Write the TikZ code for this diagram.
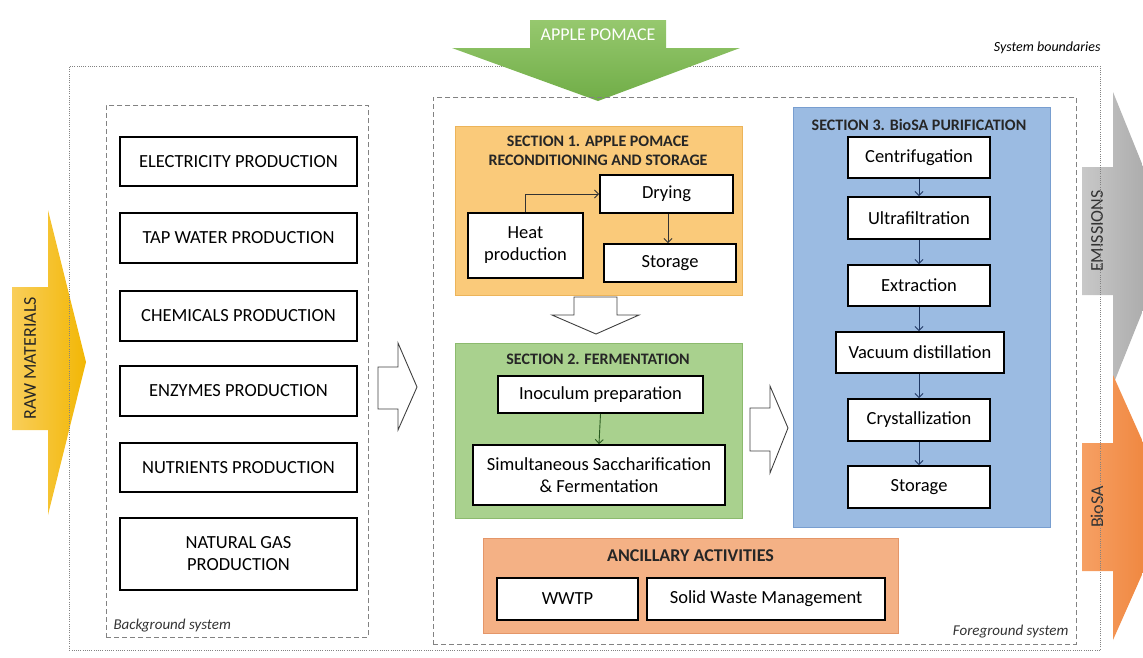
\documentclass[tikz,border=0pt]{standalone}
\usepackage{fontspec}
\setmainfont{Carlito}
\usetikzlibrary{arrows.meta}
\definecolor{secone}{RGB}{250,202,122}
\definecolor{seconeB}{RGB}{236,180,90}
\definecolor{sectwo}{RGB}{169,209,142}
\definecolor{sectwoB}{RGB}{140,186,110}
\definecolor{secthree}{RGB}{155,187,226}
\definecolor{secthreeB}{RGB}{120,158,208}
\definecolor{ancil}{RGB}{244,177,133}
\definecolor{ancilB}{RGB}{228,150,105}
\definecolor{bordgray}{RGB}{130,130,130}
\definecolor{applegreen}{RGB}{112,173,71}
\definecolor{applelight}{RGB}{150,200,110}
\definecolor{rawyellow}{RGB}{242,183,5}
\definecolor{rawlight}{RGB}{249,206,90}
\definecolor{emgray}{RGB}{160,160,160}
\definecolor{emlight}{RGB}{200,200,200}
\definecolor{bioorange}{RGB}{237,125,49}
\definecolor{biolight}{RGB}{246,160,100}
\definecolor{arrblue}{RGB}{31,56,100}
\definecolor{arrgreen}{RGB}{40,90,30}
\begin{document}
\begin{tikzpicture}[x=1pt,y=-1pt,
  box/.style={draw=black, line width=1.8pt, fill=white, align=center, inner sep=2pt,
     font=\fontsize{18.5}{22}\selectfont},
  bgbox/.style={box, minimum width=237pt},
  pbox/.style={box, minimum width=142pt},
  secbox/.style={anchor=north west, inner sep=0pt, line width=0.8pt},
  sectitle/.style={font=\bfseries\fontsize{16}{19}\selectfont, align=center, text=black!85},
  dashbox/.style={draw=bordgray, line width=1pt, dash pattern=on 5pt off 3pt},
  dotbox/.style={draw=bordgray, line width=0.9pt, dash pattern=on 1pt off 1.2pt},
  hollow/.style={draw=black!75, line width=0.9pt, fill=white, line join=miter},
  smallarr/.style={-{Straight Barb[length=4pt,width=8pt]}, line width=0.9pt},
  sidelabel/.style={rotate=90, font=\fontsize{18}{20}\selectfont}
]
\useasboundingbox (0,0) rectangle (1143,657);

% side arrows
\path[left color=emlight, right color=emgray]
  (1082,167) -- (1113,167) -- (1113,92) -- (1172,238) -- (1113,385) -- (1113,295) -- (1082,295) -- cycle;
\node[sidelabel, text=black!80] (emis) at (1097,231) {EMISSIONS};
\path[left color=biolight, right color=bioorange]
  (1082,443) -- (1113,443) -- (1113,375) -- (1172,507) -- (1113,640) -- (1113,571) -- (1082,571) -- cycle;
\node[sidelabel, text=black!80] (biosa) at (1097,507) {BioSA};
\path[left color=rawlight, right color=rawyellow]
  (12,287) -- (48,287) -- (48,210) -- (86,362) -- (48,515) -- (48,430) -- (12,430) -- cycle;
\node[sidelabel, text=black!85] (raw) at (30,358) {RAW MATERIALS};

% system boundary
\node[dotbox, secbox, minimum width=1031pt, minimum height=584pt] (sys) at (69,66) {};
\node[font=\itshape\fontsize{14}{16}\selectfont, anchor=east] (syslab) at (1104,48) {System boundaries};

% apple pomace arrow
\path[top color=applelight, bottom color=applegreen]
  (530,20) -- (666,20) -- (666,48) -- (740,48) -- (598,101) -- (452,48) -- (530,48) -- cycle;
\node[font=\fontsize{18}{20}\selectfont, text=white] (apple) at (598,35) {APPLE POMACE};

% background system
\node[dashbox, secbox, minimum width=262pt, minimum height=532pt] (bg) at (106,105) {};
\node[font=\itshape\fontsize{15}{17}\selectfont, anchor=south west, text=black!80] (bglab) at (110,636) {Background system};
\node[bgbox, minimum height=49pt] (elec) at (238.5,161.5) {ELECTRICITY PRODUCTION};
\node[bgbox, minimum height=50pt] (tap) at (238.5,238) {TAP WATER PRODUCTION};
\node[bgbox, minimum height=50pt] (chem) at (238.5,316) {CHEMICALS PRODUCTION};
\node[bgbox, minimum height=50pt] (enz) at (238.5,391) {ENZYMES PRODUCTION};
\node[bgbox, minimum height=49pt] (nutr) at (238.5,467.5) {NUTRIENTS PRODUCTION};
\node[bgbox, minimum height=72pt] (gas) at (238.5,554) {NATURAL GAS\\PRODUCTION};

% foreground system
\node[dashbox, secbox, minimum width=643pt, minimum height=547pt] (fg) at (433,97) {};
\node[font=\itshape\fontsize{15}{17}\selectfont, anchor=south east, text=black!80] (fglab) at (1072,642) {Foreground system};

% hollow arrow bg -> fg
\draw[hollow] (378,367) -- (398,367) -- (398,343) -- (417,387) -- (398,430) -- (398,409) -- (378,409) -- cycle;

% section 1
\node[secbox, fill=secone, draw=seconeB, minimum width=287pt, minimum height=169pt] (s1) at (455,126) {};
\node[sectitle] (s1t) at (598,151) {SECTION 1. APPLE POMACE\\RECONDITIONING AND STORAGE};
\node[box, minimum width=133pt, minimum height=38pt] (dry) at (666.5,194) {Drying};
\node[box, minimum width=115pt, minimum height=65pt] (heat) at (525.5,245.5) {Heat\\production};
\node[box, minimum width=132pt, minimum height=38pt] (sto1) at (670,263) {Storage};
\draw[smallarr, draw=black!80] (heat.north) |- (dry.west);
\draw[smallarr, draw=black!80] (dry.south -| 668,0) -- (sto1.north -| 668,0);

% hollow down arrow
\draw[hollow] (574,297) -- (617,297) -- (617,315) -- (639,315) -- (596,334) -- (552,315) -- (574,315) -- cycle;

% section 2
\node[secbox, fill=sectwo, draw=sectwoB, minimum width=287pt, minimum height=175pt] (s2) at (455,343) {};
\node[sectitle] (s2t) at (598,359) {SECTION 2. FERMENTATION};
\node[box, minimum width=205pt, minimum height=37pt] (inoc) at (600.5,394.5) {Inoculum preparation};
\node[box, minimum width=252pt, minimum height=60pt] (ssf) at (599,475) {Simultaneous Saccharification\\\& Fermentation};
\draw[smallarr, draw=arrgreen] (inoc.south) -- (ssf.north);

% hollow right arrow
\draw[hollow] (750,408) -- (770,408) -- (770,386) -- (788,428) -- (770,473) -- (770,451) -- (750,451) -- cycle;

% section 3
\node[secbox, fill=secthree, draw=secthreeB, minimum width=257pt, minimum height=420pt] (s3) at (793,107) {};
\node[sectitle] (s3t) at (919,125) {SECTION 3. BioSA PURIFICATION};
\node[pbox, minimum height=41pt] (cent) at (919,157.5) {Centrifugation};
\node[pbox, minimum height=42pt] (ultra) at (919,218) {Ultrafiltration};
\node[pbox, minimum height=41pt] (extr) at (919,285.5) {Extraction};
\node[box, minimum width=168pt, minimum height=41pt] (vac) at (920,352.5) {Vacuum distillation};
\node[pbox, minimum height=42pt] (crys) at (919,420) {Crystallization};
\node[pbox, minimum height=42pt] (sto3) at (919,487) {Storage};
\draw[smallarr, draw=arrblue] (cent.south) -- (ultra.north);
\draw[smallarr, draw=arrblue] (ultra.south) -- (extr.north);
\draw[smallarr, draw=arrblue] (extr.south) -- (vac.north -| extr.south);
\draw[smallarr, draw=arrblue] (vac.south -| crys.north) -- (crys.north);
\draw[smallarr, draw=arrblue] (crys.south) -- (sto3.north);

% ancillary
\node[secbox, fill=ancil, draw=ancilB, minimum width=415pt, minimum height=95pt] (anc) at (483,538) {};
\node[sectitle, font=\bfseries\fontsize{18}{20}\selectfont] (anct) at (690.5,556) {ANCILLARY ACTIVITIES};
\node[box, minimum width=141pt, minimum height=42pt] (wwtp) at (567.5,599) {WWTP};
\node[box, minimum width=238pt, minimum height=42pt] (swm) at (766,599) {Solid Waste Management};
\end{tikzpicture}
\end{document}
